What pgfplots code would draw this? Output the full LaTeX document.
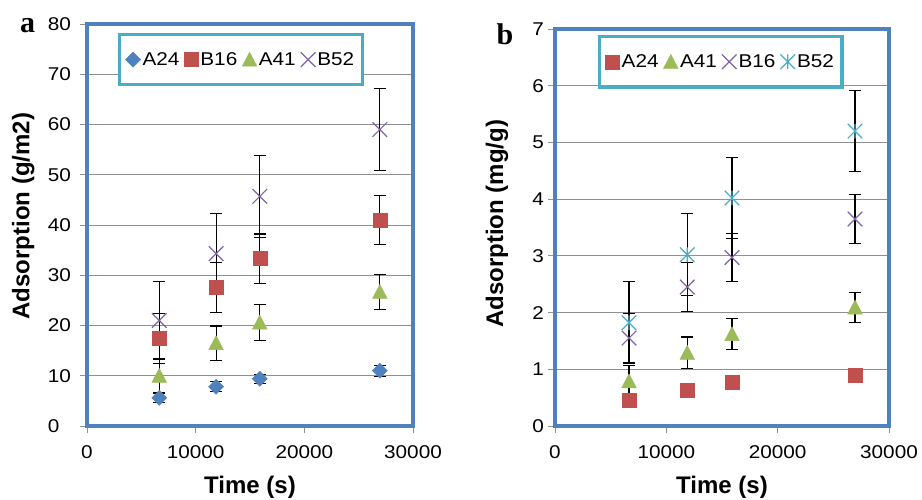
\documentclass[border=0pt]{standalone}
\usepackage{fontspec}
\setmainfont{Liberation Sans}
\newfontfamily\tickfont{Liberation Sans}[FakeStretch=1.12]
\newfontfamily\panelfont{Liberation Serif}
\usepackage{pgfplots}
\usepackage{pgfplotstable}
\pgfplotsset{compat=1.18}
\definecolor{exblue}{HTML}{4F81BD}
\definecolor{exred}{HTML}{C0504D}
\definecolor{exgreen}{HTML}{9BBB59}
\definecolor{expurple}{HTML}{8064A2}
\definecolor{excyan}{HTML}{4BACC6}
\definecolor{gridgray}{HTML}{909090}
\pgfdeclareplotmark{xstar}{%
  \pgfpathmoveto{\pgfqpoint{-\pgfplotmarksize}{-\pgfplotmarksize}}%
  \pgfpathlineto{\pgfqpoint{\pgfplotmarksize}{\pgfplotmarksize}}%
  \pgfpathmoveto{\pgfqpoint{-\pgfplotmarksize}{\pgfplotmarksize}}%
  \pgfpathlineto{\pgfqpoint{\pgfplotmarksize}{-\pgfplotmarksize}}%
  \pgfpathmoveto{\pgfqpoint{0pt}{-\pgfplotmarksize}}%
  \pgfpathlineto{\pgfqpoint{0pt}{\pgfplotmarksize}}%
  \pgfusepathqstroke}
\pgfdeclareplotmark{bigx}{%
  \pgfpathmoveto{\pgfqpoint{-\pgfplotmarksize}{-\pgfplotmarksize}}%
  \pgfpathlineto{\pgfqpoint{\pgfplotmarksize}{\pgfplotmarksize}}%
  \pgfpathmoveto{\pgfqpoint{-\pgfplotmarksize}{\pgfplotmarksize}}%
  \pgfpathlineto{\pgfqpoint{\pgfplotmarksize}{-\pgfplotmarksize}}%
  \pgfusepathqstroke}
% Excel-like triangle centred on its bounding box
\pgfdeclareplotmark{etri}{%
  \pgfpathmoveto{\pgfqpoint{0pt}{\pgfplotmarksize}}%
  \pgfpathlineto{\pgfqpoint{\pgfplotmarksize}{-0.9\pgfplotmarksize}}%
  \pgfpathlineto{\pgfqpoint{-\pgfplotmarksize}{-0.9\pgfplotmarksize}}%
  \pgfpathclose
  \pgfusepathqfillstroke}

% panel a data: x, y, error
\pgfplotstableread{
x y e
6650 5.6 1.0
11880 7.8 1.0
15900 9.4 0.9
26950 11.0 1.1
}\aAtwofour
\pgfplotstableread{
x y e
6650 17.4 5.0
11880 27.6 5.0
15900 33.3 4.9
26950 41.0 4.9
}\aBonesix
\pgfplotstableread{
x y e
6650 10.0 3.5
11880 16.5 3.4
15900 20.6 3.5
26950 26.7 3.5
}\aAfourone
\pgfplotstableread{
x y e
6650 21.0 7.7
11880 34.3 8.0
15900 45.7 8.1
26950 59.0 8.2
}\aBfivetwo
% panel b data
\pgfplotstableread{
x y e
6650 0.45 0.0
11880 0.63 0.0
15900 0.77 0.0
26950 0.90 0.0
}\bAtwofour
\pgfplotstableread{
x y e
6650 0.79 0.28
11880 1.29 0.28
15900 1.62 0.27
26950 2.09 0.27
}\bAfourone
\pgfplotstableread{
x y e
6650 1.55 0.43
11880 2.45 0.43
15900 2.97 0.43
26950 3.65 0.43
}\bBonesix
\pgfplotstableread{
x y e
6650 1.82 0.72
11880 3.02 0.72
15900 4.02 0.72
26950 5.20 0.72
}\bBfivetwo

\pgfplotsset{
  excel/.style={
    scale only axis, anchor=south west,
    xmin=0, xmax=30000, xtick={0,10000,20000,30000},
    scaled x ticks=false, scaled y ticks=false,
    /pgf/number format/1000 sep={},
    /pgf/number format/assume math mode=true,
    ymin=0,
    ymajorgrids, grid style={gridgray, line width=0.9pt},
    axis line style={exblue, line width=3.5pt},
    tick style={gridgray, line width=0.9pt},
    tick align=outside, major tick length=7pt,
    xtick pos=left, ytick pos=left,
    ticklabel style={font=\tickfont\fontsize{18.5}{18.5}\selectfont},
    xticklabel style={inner sep=0pt, anchor=north, yshift=-12pt},
    label style={font=\bfseries\fontsize{24}{24}\selectfont},
    xlabel style={at={(axis description cs:0.5,0)}, anchor=center, yshift=-61pt},
    legend columns=4,
    legend style={draw=excyan, line width=3.2pt, fill=white,
      font=\tickfont\fontsize{18.5}{18.5}\selectfont,
      inner xsep=6pt, inner ysep=16pt,
      nodes={inner sep=2pt},
      /tikz/every even column/.append style={column sep=3pt}},
    legend image code/.code={\draw[##1] plot coordinates {(0pt,0pt)};},
  },
  ebar/.style={draw=none, mark=none, forget plot,
    error bars/.cd, y dir=both, y explicit,
    error bar style={draw=black, line width=1.1pt, solid},
    error mark options={draw=black, rotate=90, mark size=6pt, line width=1.1pt}},
}

\begin{document}
\begin{tikzpicture}
\useasboundingbox (0pt,0pt) rectangle (922pt,500pt);
\node[anchor=base, font=\panelfont\bfseries\fontsize{30}{30}\selectfont] at (27.5pt,467pt) {a};
\node[anchor=base, font=\panelfont\bfseries\fontsize{30}{30}\selectfont] at (505pt,455pt) {b};

\begin{axis}[excel, at={(87pt,74pt)}, width=326pt, height=402pt,
  ymax=80, ytick={0,10,...,80},
  yticklabel style={text width=24pt, align=left, anchor=east, inner sep=0pt, xshift=-8pt},
  xlabel={Time (s)}, ylabel={Adsorption (g/m2)},
  ylabel style={at={(axis description cs:-0.196,0.522)}, anchor=center},
  legend style={at={(axis description cs:0.095,0.978)}, anchor=north west},
]
\addplot[ebar] table[x=x,y=y,y error=e] {\aAtwofour};
\addplot[ebar] table[x=x,y=y,y error=e] {\aBonesix};
\addplot[ebar] table[x=x,y=y,y error=e] {\aAfourone};
\addplot[ebar] table[x=x,y=y,y error=e] {\aBfivetwo};
\addplot[only marks, color=exblue, line width=0.5pt, mark=square*, mark size=5.3pt, mark options={rotate=45}] table[x=x,y=y] {\aAtwofour};
\addlegendentry{A24}
\addplot[only marks, color=exred, line width=0.5pt, mark=square*, mark size=7pt] table[x=x,y=y] {\aBonesix};
\addlegendentry{B16}
\addplot[only marks, color=exgreen, line width=0.5pt, mark=etri, mark size=7.3pt] table[x=x,y=y] {\aAfourone};
\addlegendentry{A41}
\addplot[only marks, color=expurple, line width=1.2pt, mark=bigx, mark size=7.3pt] table[x=x,y=y] {\aBfivetwo};
\addlegendentry{B52}
\end{axis}

\begin{axis}[excel, at={(555pt,74pt)}, width=334pt, height=397pt,
  ymax=7, ytick={0,1,...,7},
  yticklabel style={anchor=east, inner sep=0pt, xshift=-4pt},
  xlabel={Time (s)}, ylabel={Adsorption (mg/g)},
  ylabel style={at={(axis description cs:-0.174,0.509)}, anchor=center},
  legend style={at={(axis description cs:0.129,0.985)}, anchor=north west},
]
\addplot[ebar] table[x=x,y=y,y error=e] {\bAfourone};
\addplot[ebar] table[x=x,y=y,y error=e] {\bBonesix};
\addplot[ebar] table[x=x,y=y,y error=e] {\bBfivetwo};
\addplot[only marks, color=exred, line width=0.5pt, mark=square*, mark size=7pt] table[x=x,y=y] {\bAtwofour};
\addlegendentry{A24}
\addplot[only marks, color=exgreen, line width=0.5pt, mark=etri, mark size=7.3pt] table[x=x,y=y] {\bAfourone};
\addlegendentry{A41}
\addplot[only marks, color=expurple, line width=1.2pt, mark=bigx, mark size=7.3pt] table[x=x,y=y] {\bBonesix};
\addlegendentry{B16}
\addplot[only marks, color=excyan, line width=1.2pt, mark=xstar, mark size=7.3pt] table[x=x,y=y] {\bBfivetwo};
\addlegendentry{B52}
\end{axis}
\end{tikzpicture}
\end{document}
